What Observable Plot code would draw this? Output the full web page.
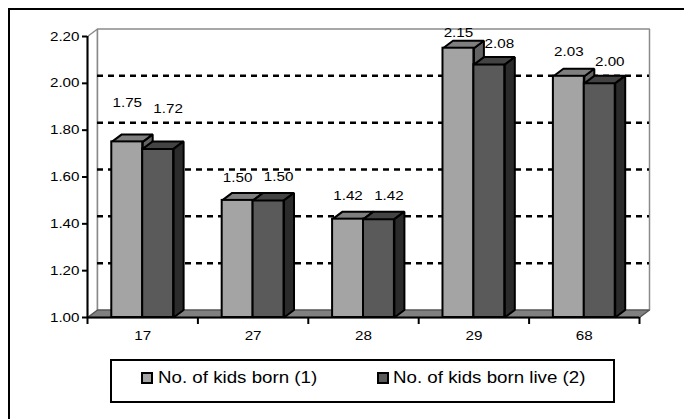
<!DOCTYPE html>
<html>
<head>
<meta charset="utf-8">
<script src="https://cdn.jsdelivr.net/npm/d3@7"></script>
<script src="https://cdn.jsdelivr.net/npm/@observablehq/plot@0.6"></script>
<style>
  html, body { margin: 0; padding: 0; background: #fff; width: 684px; height: 419px; overflow: hidden;
    font-family: "Liberation Sans", Arial, sans-serif; }
  #frame { position: absolute; left: 8px; top: 8px; width: 720px; height: 460px;
    border-top: 2px solid #000; border-left: 2px solid #000; }
  #chart { position: absolute; left: 0; top: 0; }
  #legend { position: absolute; left: 110px; top: 359px; width: 501px; height: 40px;
    border: 2px solid #000; background: #fff; }
  .sw { position: absolute; top: 11px; width: 12px; height: 12px; box-sizing: border-box; border: 2px solid #000; }
  .lt { position: absolute; top: 9px; font-size: 16px; line-height: 16px; color: #000;
    transform: scaleX(1.17); transform-origin: left center; white-space: nowrap; }
</style>
</head>
<body>
<div id="frame"></div>
<div id="chart"></div>
<div id="legend"></div>
<script>
// Average number of children per woman, by group
const categories = ["17", "27", "28", "29", "68"];
const kidsBorn = [1.75, 1.50, 1.42, 2.15, 2.03];
const kidsBornLive = [1.72, 1.50, 1.42, 2.08, 2.00];
const seriesNames = ["No. of kids born (1)", "No. of kids born live (2)"];
const yTicks = [1.0, 1.2, 1.4, 1.6, 1.8, 2.0, 2.2];

// colours of the 3-D columns: front, top and side faces
const colors = {
  born: {front: "#a4a4a4", top: "#7f7f7f", side: "#636363"},
  live: {front: "#5a5a5a", top: "#434343", side: "#2b2b2b"}
};

// layout
const W = 684, H = 350, mL = 87, mR = 45, mT = 36, mB = 33;
const yMin = 1.0, yMax = 2.2;
const bandPx = (W - mL - mR) / categories.length;
const unitPx = (H - mT - mB) / (yMax - yMin);
const dX = 10 / bandPx;    // depth of the 3-D box, horizontally
const dY = 7.5 / unitPx;   // depth of the 3-D box, vertically
const textStretch = 1.17;  // labels are drawn slightly wide
const fmt = d3.format(".2f");

// extra lift of the value labels above each column top (px), per category
const labelLift = {"17": [39, 40], "27": [23, 24], "28": [23, 23], "29": [15, 21], "68": [24, 21]};

const rows = categories.map((cat, i) => ({cat, i, born: kidsBorn[i], live: kidsBornLive[i]}));

// column geometry in scale units
const span = {born: [0.22, 0.5], live: [0.5, 0.78]};
function front(key) {
  return rows.map(r => ({x1: r.i + span[key][0], x2: r.i + span[key][1], y1: yMin, y2: r[key]}));
}
function topFace(key) {
  return rows.flatMap(r => {
    const a = r.i + span[key][0], b = r.i + span[key][1], v = r[key];
    return [[a, v], [a + dX, v + dY], [b + dX, v + dY], [b, v], [a, v]].map(([x, y]) => ({x, y, z: r.cat}));
  });
}
function sideFace(key) {
  return rows.flatMap(r => {
    const b = r.i + span[key][1], v = r[key];
    return [[b, v], [b + dX, v + dY], [b + dX, yMin + dY], [b, yMin], [b, v]].map(([x, y]) => ({x, y, z: r.cat}));
  });
}

const n = categories.length;
const floor = [[0, yMin], [dX, yMin + dY], [n + dX, yMin + dY], [n, yMin], [0, yMin]].map(([x, y]) => ({x, y}));
const leftWall = [[0, yMin], [0, yMax], [dX, yMax + dY], [dX, yMin + dY]].map(([x, y]) => ({x, y}));
const backWall = [[dX, yMin + dY], [dX, yMax + dY], [n + dX, yMax + dY], [n + dX, yMin + dY]].map(([x, y]) => ({x, y}));
const gridValues = yTicks.filter(t => t > yMin && t < yMax);

const poly = (data, fill, stroke, sw, extra = {}) =>
  Plot.line(data, {x: "x", y: "y", fill, stroke, strokeWidth: sw, strokeLinejoin: "miter", ...extra});

const chart = Plot.plot({
  width: W, height: H,
  marginLeft: mL, marginRight: mR, marginTop: mT, marginBottom: mB,
  style: {fontFamily: "'Liberation Sans', Arial, sans-serif", fontSize: "13px", color: "#000", background: "transparent", overflow: "visible"},
  x: {type: "linear", domain: [0, n], axis: null},
  y: {domain: [yMin, yMax], axis: null},
  marks: [
    // walls and floor
    poly(leftWall, "#fff", "#8a8a8a", 1.5),
    poly(backWall, "#fff", "#8a8a8a", 1.5),
    Plot.ruleY(gridValues, {y: d => d + dY, x1: dX, x2: n + dX, stroke: "#000", strokeWidth: 2.5, strokeDasharray: "6,5"}),
    poly(floor, "#808080", "#555", 1.5),
    // columns
    poly(sideFace("born"), colors.born.side, "#000", 2, {z: "z"}),
    poly(topFace("born"), colors.born.top, "#000", 2, {z: "z"}),
    Plot.rect(front("born"), {x1: "x1", x2: "x2", y1: "y1", y2: "y2", fill: colors.born.front, stroke: "#000", strokeWidth: 2}),
    Plot.rect(front("live"), {x1: "x1", x2: "x2", y1: "y1", y2: "y2", fill: colors.live.front, stroke: "#000", strokeWidth: 2}),
    poly(topFace("live"), colors.live.top, "#000", 2, {z: "z"}),
    poly(sideFace("live"), colors.live.side, "#000", 2, {z: "z"}),
    // axes
    Plot.ruleX([0], {y1: yMin, y2: yMax, stroke: "#000", strokeWidth: 2}),
    Plot.ruleY([yMin], {x1: 0, x2: n, stroke: "#000", strokeWidth: 2}),
    Plot.axisY(yTicks, {tickSize: 5, tickPadding: 3, tickFormat: fmt, strokeWidth: 2, fontSize: 13, label: null}),
    Plot.axisX(d3.range(n + 1), {tickSize: 7, tickFormat: () => "", strokeWidth: 2, label: null}),
    Plot.text(rows, {x: d => d.i + 0.5, y: yMin, text: "cat", dy: 18, fontSize: 13, fill: "#000"}),
    // value labels
    Plot.text(rows, {x: d => d.i + (span.born[0] + span.born[1]) / 2, y: d => d.born + labelLift[d.cat][0] / unitPx,
      text: d => fmt(d.born), fontSize: 13, fill: "#000"}),
    Plot.text(rows, {x: d => d.i + (span.live[0] + span.live[1]) / 2, y: d => d.live + labelLift[d.cat][1] / unitPx,
      text: d => fmt(d.live), dx: 10, fontSize: 13, fill: "#000"})
  ]
});

// widen every label horizontally about its own anchor point
chart.querySelectorAll("text").forEach(t => {
  if (!t.textContent) return;
  const xa = t.getAttribute("x");
  const x = xa !== null && isFinite(+xa) ? +xa : 0;
  if (xa !== null && isFinite(+xa)) t.removeAttribute("x");
  const tr = t.getAttribute("transform") || "";
  t.setAttribute("transform", `${tr} translate(${x},0) scale(${textStretch},1)`);
});
document.getElementById("chart").appendChild(chart);

// legend below the chart
const legend = document.getElementById("legend");
const legendPos = [{sw: 29, tx: 46}, {sw: 265, tx: 281}];
seriesNames.forEach((name, k) => {
  const sw = document.createElement("div");
  sw.className = "sw";
  sw.style.left = legendPos[k].sw + "px";
  sw.style.background = k === 0 ? colors.born.front : colors.live.front;
  const t = document.createElement("div");
  t.className = "lt";
  t.style.left = legendPos[k].tx + "px";
  t.textContent = name;
  legend.append(sw, t);
});
</script>
</body>
</html>
